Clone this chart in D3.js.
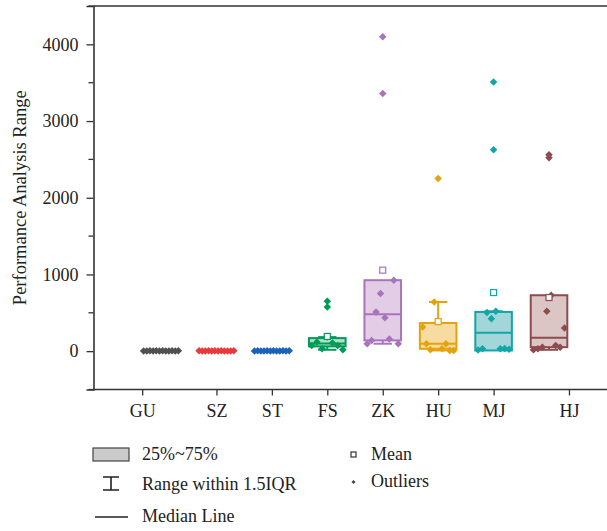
<!DOCTYPE html>
<html><head><meta charset="utf-8">
<script src="https://cdn.jsdelivr.net/npm/d3@7"></script>
<style>body{margin:0;background:#fff}svg{display:block}</style>
</head><body><svg id="c" width="607" height="531"></svg>
<script>
const categories = ["GU","SZ","ST","FS","ZK","HU","MJ","HJ"];
const tickPositions = [-0.34, 1, 2, 3, 4, 5, 6, 7.36];
const yTicks = [0, 1000, 2000, 3000, 4000];
const yMinorTicks = [-500, 500, 1500, 2500, 3500, 4500];
const q1Values = [0, 0, 0, 62, 140, 31, 9, 52];
const medianValues = [0, 0, 0, 100, 480, 97, 241, 175];
const q3Values = [0, 0, 0, 170, 925, 367, 511, 729];
const whiskerLow = [0, 0, 0, 18, 97, 9, 9, 18];
const whiskerHigh = [0, 0, 0, 183, 925, 641, 520, 729];
const meanValues = [3, 2, 2, 192, 1056, 385, 764, 699];
const pointsGU = [3, 2, 5, 1, 4, 2, 6, 3, 1, 4, 2, 5];
const pointsSZ = [4, 2, 1, 6, 3, 5, 2, 4, 1, 3, 2, 5];
const pointsST = [2, 5, 1, 3, 6, 2, 4, 1, 3, 5, 2, 4];
const pointsFS = [75, 118, 31, 183, 105, 75, 18];
const pointsZK = [97, 140, 510, 751, 437, 157, 925, 97];
const pointsHU = [314, 97, 18, 641, 380, 31, 97, 9, 9];
const pointsMJ = [15, 30, 503, 424, 520, 30, 35, 25];
const pointsHJ = [18, 31, 52, 520, 729, 75, 52, 301];
const outliersFS = [650, 576];
const outliersZK = [4100, 3360];
const outliersHU = [2251];
const outliersMJ = [3508, 2627];
const outliersHJ = [2560, 2520];
const points = [pointsGU, pointsSZ, pointsST, pointsFS, pointsZK, pointsHU, pointsMJ, pointsHJ];
const outliers = [[], [], [], outliersFS, outliersZK, outliersHU, outliersMJ, outliersHJ];
const strokeColors = ["#505050","#e8393a","#1c63b8","#009b58","#a775b9","#e4a30d","#14a6a6","#8e4b4e"];
const fillColors = ["#c9c9c9","#f5b5b5","#a9c4e6","#b2dec4","#e3cde6","#f7dca2","#a2d6d8","#dcc5c5"];

const svg = d3.select("#c");
const font = "'Liberation Serif','Times New Roman',serif";
const x = d3.scaleLinear().domain([-1.218, 8.046]).range([93.5, 607]);
const y = d3.scaleLinear().domain([-500, 4500]).range([389.5, 6]);
const bw = x(0.66) - x(0);
const axisColor = "#333";

svg.append("line").attr("x1", x(-1.218)).attr("x2", 607).attr("y1", y(4500)).attr("y2", y(4500))
  .attr("stroke", axisColor).attr("stroke-width", 1.6);

const yAxis = svg.append("g").attr("transform", `translate(${x(-1.218)},0)`)
  .call(d3.axisLeft(y).tickValues(yTicks).tickSize(7).tickPadding(8).tickFormat(d3.format("d")))
  .attr("font-family", font).attr("font-size", 18);
yAxis.select(".domain").attr("stroke", axisColor).attr("stroke-width", 1.6);
yAxis.selectAll(".tick line").attr("stroke", axisColor).attr("stroke-width", 1.3);
yAxis.selectAll("text").attr("font-family", font).attr("font-size", 18).attr("fill", "#222");
yAxis.selectAll(".minor").data(yMinorTicks).enter().append("line").attr("class","minor")
  .attr("x1", -5).attr("x2", 0).attr("y1", d => y(d)).attr("y2", d => y(d))
  .attr("stroke", axisColor).attr("stroke-width", 1.3);

const xAxis = svg.append("g").attr("transform", `translate(0,${y(-500)})`)
  .call(d3.axisBottom(x).tickValues(tickPositions).tickSize(6).tickPadding(9)
    .tickFormat((d, i) => categories[i]))
  .attr("font-family", font).attr("font-size", 18);
xAxis.select(".domain").attr("d", `M${x(-1.218)},0H607`).attr("stroke", axisColor).attr("stroke-width", 1.6);
xAxis.selectAll(".tick line").attr("stroke", axisColor).attr("stroke-width", 1.3);
xAxis.selectAll("text").attr("font-family", font).attr("font-size", 18).attr("fill", "#222");

svg.append("text").attr("transform", `translate(26,${(y(4500)+y(-500))/2}) rotate(-90)`)
  .attr("text-anchor", "middle").attr("font-family", font).attr("font-size", 18.5).attr("fill", "#222")
  .text("Performance Analysis Range");

const diamond = d3.symbol().type(d3.symbolDiamond2).size(36);
const g = svg.append("g");
categories.forEach((c, i) => {
  const cx = x(i), sc = strokeColors[i], fc = fillColors[i];
  const gg = g.append("g");
  gg.append("rect").attr("x", cx - bw/2).attr("width", bw)
    .attr("y", y(q3Values[i])).attr("height", Math.max(0, y(q1Values[i]) - y(q3Values[i])))
    .attr("fill", fc).attr("stroke", sc).attr("stroke-width", 2);
  gg.append("line").attr("x1", cx - bw/2).attr("x2", cx + bw/2)
    .attr("y1", y(medianValues[i])).attr("y2", y(medianValues[i])).attr("stroke", sc).attr("stroke-width", 2);
  if (whiskerHigh[i] > q3Values[i]) {
    gg.append("line").attr("x1", cx).attr("x2", cx).attr("y1", y(q3Values[i])).attr("y2", y(whiskerHigh[i]))
      .attr("stroke", sc).attr("stroke-width", 2);
    gg.append("line").attr("x1", cx - bw/4).attr("x2", cx + bw/4).attr("y1", y(whiskerHigh[i])).attr("y2", y(whiskerHigh[i]))
      .attr("stroke", sc).attr("stroke-width", 2);
  }
  if (whiskerLow[i] < q1Values[i]) {
    gg.append("line").attr("x1", cx).attr("x2", cx).attr("y1", y(q1Values[i])).attr("y2", y(whiskerLow[i]))
      .attr("stroke", sc).attr("stroke-width", 2);
    gg.append("line").attr("x1", cx - bw/4).attr("x2", cx + bw/4).attr("y1", y(whiskerLow[i])).attr("y2", y(whiskerLow[i]))
      .attr("stroke", sc).attr("stroke-width", 2);
  }
  const pts = points[i], n = pts.length;
  const spread = i < 3 ? bw * 0.95 : bw * 0.85;
  gg.selectAll(".p").data(pts).enter().append("path")
    .attr("transform", (d, k) => `translate(${cx + (k/(n-1) - 0.5) * spread},${y(d)})`)
    .attr("d", diamond).attr("fill", sc);
  if (i >= 3) {
    gg.append("rect").attr("x", cx - 3).attr("y", y(meanValues[i]) - 3).attr("width", 6).attr("height", 6)
      .attr("fill", "#fff").attr("stroke", sc).attr("stroke-width", 1.2);
  }
  gg.selectAll(".o").data(outliers[i]).enter().append("path")
    .attr("transform", d => `translate(${cx},${y(d)})`)
    .attr("d", diamond).attr("fill", sc);
});

const lg = svg.append("g").attr("font-family", font).attr("font-size", 18).attr("fill", "#222");
lg.append("rect").attr("x", 93).attr("y", 448).attr("width", 36).attr("height", 13)
  .attr("fill", "#cbcbcb").attr("stroke", "#444").attr("stroke-width", 1.2);
lg.append("text").attr("x", 142).attr("y", 460).text("25%~75%");
lg.append("path").attr("d", "M103,477H119M111,477V490M103,490H119").attr("stroke", "#222").attr("stroke-width", 1.6).attr("fill", "none");
lg.append("text").attr("x", 142).attr("y", 490).text("Range within 1.5IQR");
lg.append("line").attr("x1", 95).attr("x2", 128).attr("y1", 517).attr("y2", 517).attr("stroke", "#222").attr("stroke-width", 1.6);
lg.append("text").attr("x", 142).attr("y", 522).text("Median Line");
lg.append("rect").attr("x", 351).attr("y", 452).attr("width", 5).attr("height", 5)
  .attr("fill", "#fff").attr("stroke", "#333").attr("stroke-width", 1.2);
lg.append("text").attr("x", 371).attr("y", 460).text("Mean");
lg.append("path").attr("transform", "translate(353.5,482)").attr("d", d3.symbol().type(d3.symbolDiamond2).size(10)).attr("fill", "#444");
lg.append("text").attr("x", 371).attr("y", 487).text("Outliers");
</script></body></html>
